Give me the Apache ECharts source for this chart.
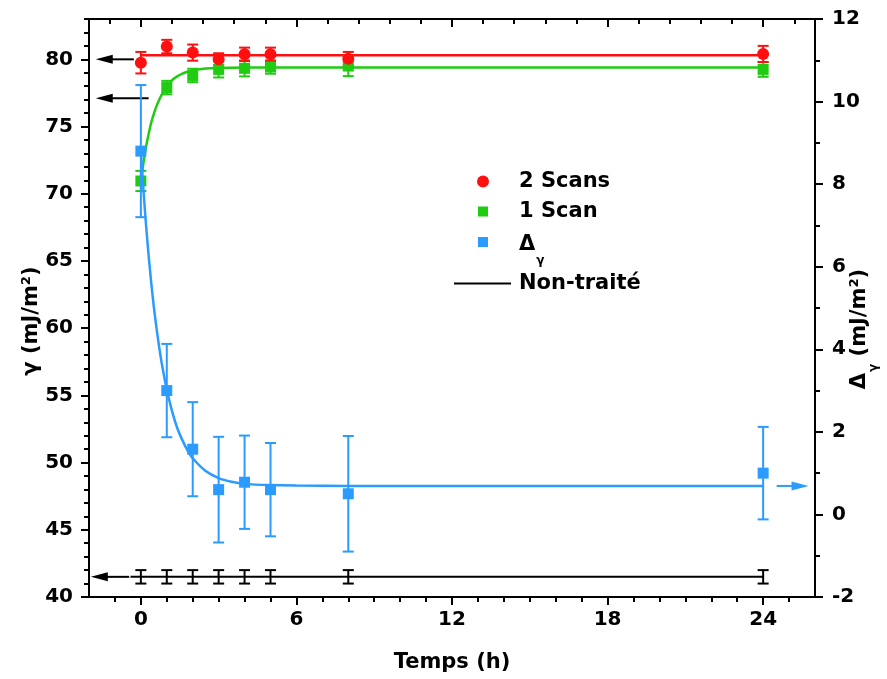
<!DOCTYPE html>
<html><head><meta charset="utf-8">
<script src="https://cdn.jsdelivr.net/npm/echarts@6/dist/echarts.min.js"></script>
<style>html,body{margin:0;padding:0;background:#fff}#c{width:887px;height:679px}</style>
</head><body><div id="c"></div>
<script>
// ---- data ----
const times = [0, 1, 2, 3, 4, 5, 8, 24];
const scans2 = [79.75, 80.95, 80.5, 80.0, 80.37, 80.37, 80.05, 80.4];
const scans2Err = [0.8, 0.5, 0.6, 0.45, 0.5, 0.5, 0.5, 0.6];
const scan1 = [70.95, 77.9, 78.8, 79.25, 79.33, 79.43, 79.5, 79.25];
const scan1Err = [0.75, 0.5, 0.5, 0.6, 0.6, 0.5, 0.75, 0.55];
const delta = [8.8, 3.0, 1.58, 0.6, 0.78, 0.6, 0.5, 1.0];
const deltaErr = [1.6, 1.13, 1.14, 1.28, 1.13, 1.13, 1.4, 1.12];
const nonTraite = [41.5, 41.5, 41.5, 41.5, 41.5, 41.5, 41.5, 41.5];
const nonTraiteErr = [0.5, 0.5, 0.5, 0.5, 0.5, 0.5, 0.5, 0.5];

// fitted curves
const nonTraiteLineX = [-0.4, 24];
const nonTraiteLineY = [41.5, 41.5];
const scans2FitX = [0, 24];
const scans2FitY = [80.3, 80.3];
const scan1FitX = [0, 0.1, 0.2, 0.3, 0.4, 0.5, 0.6, 0.7, 0.8, 0.9, 1.0, 1.2, 1.4, 1.6, 1.8, 2.0, 2.5, 3, 4, 5, 8, 12, 24];
const scan1FitY = [70.9, 72.3, 73.5, 74.45, 75.3, 75.95, 76.5, 76.95, 77.35, 77.65, 77.9, 78.44, 78.73, 78.94, 79.08, 79.18, 79.31, 79.36, 79.39, 79.4, 79.4, 79.4, 79.4];
const deltaFitX = [0, 0.1, 0.2, 0.3, 0.4, 0.5, 0.6, 0.7, 0.8, 0.9, 1.0, 1.2, 1.4, 1.6, 1.8, 2.0, 2.5, 3.0, 3.5, 4, 5, 6, 8, 24];
const deltaFitY = [8.8, 7.85, 7.01, 6.27, 5.61, 5.03, 4.53, 4.08, 3.68, 3.34, 3.02, 2.51, 2.10, 1.80, 1.55, 1.36, 1.05, 0.88, 0.79, 0.74, 0.71, 0.70, 0.69, 0.69];

// arrows (value coordinates): [xStart, y, xTip]
const blackArrows = [[-0.27, 80.0, -1.74], [0.3, 77.1, -1.74], [-0.45, 41.5, -1.93]];
const blueArrows = [[24.52, 0.69, 25.75]];

// ticks
const xLabels = [0, 6, 12, 18, 24];
const xMinorTicks = [-1,0,1,2,3,4,5,6,7,8,9,10,11,12,13,14,15,16,17,18,19,20,21,22,23,24,25];
const xTopMinorTicks = [-1.2,0,1.2,2.4,3.6,4.8,6,7.2,8.4,9.6,10.8,12,13.2,14.4,15.6,16.8,18,19.2,20.4,21.6,22.8,24,25.2];
const yLeftLabels = [40, 45, 50, 55, 60, 65, 70, 75, 80];
const yLeftMinorTicks = [41,42,43,44,46,47,48,49,51,52,53,54,56,57,58,59,61,62,63,64,66,67,68,69,71,72,73,74,76,77,78,79,81,82,83];

const RED = '#ff0f0f', GREEN = '#1fcc12', BLUE = '#2b9bff', BLACK = '#000';
const FONT = 'DejaVu Sans';

const zip = (xs, ys) => xs.map((x, i) => [x, ys[i]]);
const errData = (xs, v, e) => xs.map((x, i) => [x, v[i] - e[i], v[i] + e[i]]);

function errBars(color) {
  return function (params, api) {
    const x = api.value(0);
    const lo = api.coord([x, api.value(1)]);
    const hi = api.coord([x, api.value(2)]);
    const hw = 5.5;
    const st = { stroke: color, lineWidth: 2 };
    return { type: 'group', children: [
      { type: 'line', shape: { x1: lo[0], y1: lo[1], x2: hi[0], y2: hi[1] }, style: st },
      { type: 'line', shape: { x1: lo[0] - hw, y1: lo[1], x2: lo[0] + hw, y2: lo[1] }, style: st },
      { type: 'line', shape: { x1: hi[0] - hw, y1: hi[1], x2: hi[0] + hw, y2: hi[1] }, style: st }
    ]};
  };
}

function arrows(color) {
  return function (params, api) {
    const y = api.value(1);
    const p0 = api.coord([api.value(0), y]);
    const p1 = api.coord([api.value(2), y]);
    const d = p1[0] > p0[0] ? 1 : -1;
    const L = 17, W = 4.5;
    return { type: 'group', children: [
      { type: 'line', shape: { x1: p0[0], y1: p0[1], x2: p1[0] - d * (L - 2), y2: p1[1] }, style: { stroke: color, lineWidth: 2 } },
      { type: 'polygon', shape: { points: [[p1[0], p1[1]], [p1[0] - d * L, p1[1] - W], [p1[0] - d * L, p1[1] + W]] }, style: { fill: color } }
    ]};
  };
}

const tickStyle = { color: BLACK, width: 2 };
const lineAx = { show: true, onZero: false, lineStyle: { color: BLACK, width: 2 } };
const noLine = { show: false, onZero: false };
const lblStyle = { fontFamily: FONT, fontWeight: 'bold', fontSize: 20, color: BLACK };
const txt = { fontFamily: FONT, fontWeight: 'bold', fontSize: 21, lineHeight: 22, verticalAlign: 'middle', color: BLACK };

function mk(color, size, radius) {
  return { width: size, height: size, backgroundColor: color, borderRadius: radius, verticalAlign: 'middle' };
}
const legendRich = {
  sp23: { width: 23, height: 1 }, sp24: { width: 24, height: 1 }, sp30: { width: 30, height: 1 },
  sp31: { width: 31, height: 1 }, sp8: { width: 8, height: 1 },
  mr: mk(RED, 12, 6), mg: mk(GREEN, 10, 0), mb: mk(BLUE, 10, 0),
  ml: { width: 57, height: 2, backgroundColor: BLACK, verticalAlign: 'middle' },
  t: txt,
  d: Object.assign({}, txt, { padding: [5, 0, 0, 0] }),
  s: { fontFamily: FONT, fontWeight: 'bold', fontSize: 12, lineHeight: 12, padding: [37, 0, 0, 1], verticalAlign: 'middle', color: BLACK }
};
const legendFmt = {
  '2 Scans': '{sp23|}{mr|}{sp30|}{t|2 Scans}',
  '1 Scan': '{sp24|}{mg|}{sp31|}{t|1 Scan}',
  'Δγ': '{sp24|}{mb|}{sp31|}{d|Δ}{s|γ}',
  'Non-traité': '{ml|}{sp8|}{t|Non-traité}'
};
function legendAt(name, top) {
  return {
    orient: 'vertical', left: 448, top: top, padding: 0, itemWidth: 1, itemHeight: 1, itemGap: 0,
    selectedMode: false, icon: 'rect', itemStyle: { opacity: 0 },
    data: [name],
    formatter: n => legendFmt[n],
    textStyle: { fontFamily: FONT, fontWeight: 'bold', fontSize: 21, color: BLACK, rich: legendRich }
  };
}

const chart = echarts.init(document.getElementById('c'), null, { renderer: 'canvas' });

chart.setOption({
  animation: false,
  backgroundColor: '#fff',
  grid: { left: 89, right: 72, top: 19, bottom: 82, containLabel: false, outerBoundsMode: 'none' },
  legend: [legendAt('2 Scans', 171), legendAt('1 Scan', 201), legendAt('Δγ', 217.5), legendAt('Non-traité', 273)],
  xAxis: [
    { type: 'value', position: 'bottom', min: -2, max: 26, axisLine: lineAx,
      axisTick: { show: true, customValues: xMinorTicks, length: 5, lineStyle: tickStyle },
      axisLabel: Object.assign({ customValues: xLabels, margin: 13 }, lblStyle),
      splitLine: { show: false },
      name: 'Temps (h)', nameLocation: 'middle', nameGap: 55, nameMoveOverlap: false,
      nameTextStyle: { fontFamily: FONT, fontWeight: 'bold', fontSize: 21, color: BLACK } },
    { type: 'value', position: 'bottom', min: -2, max: 26, axisLine: noLine,
      axisTick: { show: true, customValues: xLabels, length: 8, lineStyle: tickStyle },
      axisLabel: { show: false }, splitLine: { show: false } },
    { type: 'value', position: 'top', min: -2, max: 26, axisLine: lineAx,
      axisTick: { show: true, inside: true, customValues: xTopMinorTicks, length: 5, lineStyle: tickStyle },
      axisLabel: { show: false }, splitLine: { show: false } },
    { type: 'value', position: 'top', min: -2, max: 26, axisLine: noLine,
      axisTick: { show: true, inside: true, customValues: xLabels, length: 8, lineStyle: tickStyle },
      axisLabel: { show: false }, splitLine: { show: false } }
  ],
  yAxis: [
    { type: 'value', position: 'left', min: 40, max: 83, axisLine: lineAx,
      axisTick: { show: true, customValues: yLeftLabels, length: 8, lineStyle: tickStyle },
      axisLabel: Object.assign({ customValues: yLeftLabels, margin: 16 }, lblStyle),
      splitLine: { show: false },
      name: 'γ (mJ/m²)', nameLocation: 'middle', nameGap: 47, nameMoveOverlap: false,
      nameTextStyle: { fontFamily: FONT, fontWeight: 'bold', fontSize: 21, color: BLACK, padding: [0, 26, 0, 0] } },
    { type: 'value', position: 'right', min: -2, max: 12, interval: 2, axisLine: lineAx,
      axisTick: { show: true, length: 8, lineStyle: tickStyle },
      minorTick: { show: true, splitNumber: 2, length: 5, lineStyle: tickStyle },
      axisLabel: Object.assign({ margin: 17 }, lblStyle),
      splitLine: { show: false }, minorSplitLine: { show: false },
      name: '{d|Δ}{s|γ}{n| (mJ/m²)}', nameLocation: 'middle', nameGap: 34, nameMoveOverlap: false,
      nameTextStyle: { fontFamily: FONT, fontWeight: 'bold', fontSize: 21, color: BLACK, padding: [0, 42, 0, 0], rich: {
        d: { fontFamily: FONT, fontWeight: 'bold', fontSize: 21, lineHeight: 22, verticalAlign: 'middle', color: BLACK },
        s: { fontFamily: FONT, fontWeight: 'bold', fontSize: 12, lineHeight: 12, padding: [28, 0, 0, 1], verticalAlign: 'middle', color: BLACK },
        n: { fontFamily: FONT, fontWeight: 'bold', fontSize: 21, lineHeight: 22, verticalAlign: 'middle', color: BLACK }
      } } },
    { type: 'value', position: 'left', min: 40, max: 83, axisLine: noLine,
      axisTick: { show: true, customValues: yLeftMinorTicks, length: 5, lineStyle: tickStyle },
      axisLabel: { show: false }, splitLine: { show: false } }
  ],
  series: [
    { name: 'Non-traité', type: 'line', xAxisIndex: 0, yAxisIndex: 0, data: zip(nonTraiteLineX, nonTraiteLineY),
      symbol: 'none', lineStyle: { color: BLACK, width: 2 }, itemStyle: { color: BLACK }, z: 2 },
    { name: 'arrowsK', type: 'custom', xAxisIndex: 0, yAxisIndex: 0, data: blackArrows,
      encode: { x: [0, 2], y: 1 }, renderItem: arrows(BLACK), clip: false, silent: true, z: 2 },
    { name: 'errNT', type: 'custom', xAxisIndex: 0, yAxisIndex: 0, data: errData(times, nonTraite, nonTraiteErr),
      encode: { x: 0, y: [1, 2] }, renderItem: errBars(BLACK), z: 3 },
    { name: 'fit1', type: 'line', xAxisIndex: 0, yAxisIndex: 0, data: zip(scan1FitX, scan1FitY),
      symbol: 'none', smooth: 0.2, lineStyle: { color: GREEN, width: 2.5 }, z: 2 },
    { name: 'err1', type: 'custom', xAxisIndex: 0, yAxisIndex: 0, data: errData(times, scan1, scan1Err),
      encode: { x: 0, y: [1, 2] }, renderItem: errBars(GREEN), z: 3 },
    { name: '1 Scan', type: 'scatter', xAxisIndex: 0, yAxisIndex: 0, data: zip(times, scan1),
      symbol: 'rect', symbolSize: 11, itemStyle: { color: GREEN, opacity: 1 }, z: 4 },
    { name: 'fit2', type: 'line', xAxisIndex: 0, yAxisIndex: 0, data: zip(scans2FitX, scans2FitY),
      symbol: 'none', lineStyle: { color: RED, width: 2.5 }, z: 2 },
    { name: 'err2', type: 'custom', xAxisIndex: 0, yAxisIndex: 0, data: errData(times, scans2, scans2Err),
      encode: { x: 0, y: [1, 2] }, renderItem: errBars(RED), z: 3 },
    { name: '2 Scans', type: 'scatter', xAxisIndex: 0, yAxisIndex: 0, data: zip(times, scans2),
      symbol: 'circle', symbolSize: 12, itemStyle: { color: RED, opacity: 1 }, z: 4 },
    { name: 'fitD', type: 'line', xAxisIndex: 0, yAxisIndex: 1, data: zip(deltaFitX, deltaFitY),
      symbol: 'none', smooth: 0.2, lineStyle: { color: BLUE, width: 2.5 }, z: 5 },
    { name: 'arrowsB', type: 'custom', xAxisIndex: 0, yAxisIndex: 1, data: blueArrows,
      encode: { x: [0, 2], y: 1 }, renderItem: arrows(BLUE), clip: false, silent: true, z: 5 },
    { name: 'errD', type: 'custom', xAxisIndex: 0, yAxisIndex: 1, data: errData(times, delta, deltaErr),
      encode: { x: 0, y: [1, 2] }, renderItem: errBars(BLUE), z: 6 },
    { name: 'Δγ', type: 'scatter', xAxisIndex: 0, yAxisIndex: 1, data: zip(times, delta),
      symbol: 'rect', symbolSize: 11, itemStyle: { color: BLUE, opacity: 1 }, z: 7 }
  ]
});
</script>
</body></html>
